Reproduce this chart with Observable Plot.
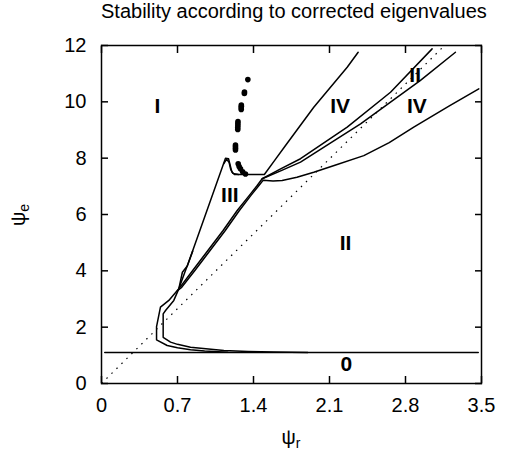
<!DOCTYPE html>
<html>
<head>
<meta charset="utf-8">
<script src="https://cdn.jsdelivr.net/npm/d3@7"></script>
<script src="https://cdn.jsdelivr.net/npm/@observablehq/plot@0.6"></script>
<style>
  body { margin: 0; background: #fff; }
  #title { font-family: "Liberation Sans", Arial, sans-serif; font-size: 20px; line-height: 23px; height: 23px;
           padding-left: 101px; padding-right: 30px; text-align: center; white-space: nowrap; color: #000; }
</style>
</head>
<body>
<div id="title">Stability according to corrected eigenvalues</div>
<div id="chart"></div>
<script>
// ---- data ----
const xTicks = [0, 0.7, 1.4, 2.1, 2.8, 3.5];
const xTickLabels = ["0", "0.7", "1.4", "2.1", "2.8", "3.5"];
const yTicks = [0, 2, 4, 6, 8, 10, 12];
const yTickLabels = ["0", "2", "4", "6", "8", "10", "12"];

// reference diagonal (dotted)
const diagonal = [[0, 0], [3.16, 12]];
// horizontal boundary of region 0
const zeroLine = [[0.03, 1.10], [3.47, 1.10]];

// outer boundary: lower tail, nose, left edge of III, peak, plateau, steep line
const curveOuter = [[1.163, 1.11], [0.95, 1.15], [0.82, 1.20], [0.70, 1.27], [0.605, 1.35], [0.507, 1.55],
  [0.507, 2.02], [0.543, 2.71], [0.62, 2.95], [0.712, 3.36], [0.745, 3.95], [0.79, 4.17], [1.142, 8.0],
  [1.17, 7.98], [1.20, 7.52], [1.225, 7.42], [1.50, 7.42], [1.60, 7.95], [1.695, 8.45], [1.955, 9.81],
  [2.263, 11.23], [2.364, 11.76]];

// inner boundary: merges into zero line, inner nose, right edge of III, upper wedge line
const curveInner = [[1.90, 1.10], [1.587, 1.115], [1.35, 1.14], [1.127, 1.17], [0.82, 1.29], [0.70, 1.39],
  [0.636, 1.47], [0.568, 1.64], [0.568, 2.47], [0.59, 2.59], [0.666, 2.95], [0.712, 3.36], [0.84, 4.01],
  [0.98, 4.72], [1.12, 5.43], [1.25, 6.14], [1.36, 6.67], [1.434, 7.03], [1.48, 7.27], [1.65, 7.62],
  [1.833, 7.98], [2.263, 9.10], [2.662, 10.34], [3.045, 11.88]];

// second strand of right edge of III, then lower right curve
const curveRight = [[0.70, 3.30], [0.735, 3.40], [0.86, 4.01], [1.00, 4.72], [1.14, 5.43], [1.27, 6.14],
  [1.375, 6.67], [1.45, 7.03], [1.49, 7.22], [1.58, 7.19], [1.664, 7.21], [1.80, 7.32], [1.955, 7.50],
  [2.15, 7.75], [2.416, 8.09], [2.65, 8.55], [2.876, 9.10], [3.2, 9.85], [3.475, 10.46]];

// lower wedge line (below the upper "II")
const curveWedge = [[1.48, 7.27], [1.65, 7.55], [1.833, 7.86], [2.1, 8.52], [2.386, 9.22], [2.938, 10.76], [3.26, 11.76]];

// small extra strands near the peak and near the kink
const curvePeak = [[1.125, 7.8], [1.152, 7.96], [1.175, 7.85], [1.19, 7.6], [1.21, 7.46], [1.26, 7.42]];
const curveKink = [[0.712, 3.36], [0.77, 3.98], [0.80, 4.28], [0.84, 4.7]];

// filled markers (eigenvalue points)
const markerPoints = [[1.348, 10.79], [1.317, 10.35], [1.316, 10.30],
  [1.288, 9.89], [1.288, 9.84], [1.287, 9.79], [1.287, 9.73],
  [1.257, 9.30], [1.256, 9.23], [1.256, 9.16], [1.255, 9.09], [1.255, 9.02],
  [1.234, 8.47], [1.234, 8.41], [1.234, 8.35], [1.234, 8.29],
  [1.259, 7.80], [1.268, 7.70], [1.28, 7.62], [1.30, 7.52], [1.326, 7.44]];

// region labels
const regionNames = ["I", "IV", "II", "IV", "III", "II", "0"];
const regionX = [0.516, 2.198, 2.889, 2.905, 1.182, 2.247, 2.255];
const regionY = [9.85, 9.84, 10.95, 9.84, 6.70, 4.97, 0.68];
const regions = regionNames.map((t, i) => ({t, x: regionX[i], y: regionY[i]}));

const lineOpts = {stroke: "#000", strokeWidth: 1.5};

const chart = Plot.plot({
  width: 511,
  height: 437,
  marginTop: 22,
  marginBottom: 77,
  marginLeft: 101,
  marginRight: 30,
  style: {fontFamily: '"Liberation Sans", Arial, sans-serif', fontSize: "20px", background: "#fff", color: "#000"},
  x: {domain: [0, 3.5]},
  y: {domain: [0, 12]},
  marks: [
    Plot.line(diagonal, {stroke: "#000", strokeWidth: 1.2, strokeDasharray: "1.5,5.5", strokeLinecap: "butt"}),
    Plot.line(zeroLine, lineOpts),
    Plot.line(curveOuter, lineOpts),
    Plot.line(curveInner, lineOpts),
    Plot.line(curveRight, lineOpts),
    Plot.line(curveWedge, lineOpts),
    Plot.line(curvePeak, lineOpts),
    Plot.line(curveKink, lineOpts),
    Plot.dot(markerPoints, {r: 2.8, fill: "#000", stroke: null}),
    Plot.text(regions, {x: "x", y: "y", text: "t", fontWeight: "bold", fontSize: 21, fill: "#000"}),
    Plot.frame({stroke: "#000", strokeWidth: 1.5}),
    Plot.axisX(xTicks, {anchor: "bottom", tickSize: -7, tickPadding: 21, strokeWidth: 1.5,
      tickFormat: d => xTickLabels[xTicks.indexOf(d)], label: null}),
    Plot.axisX(xTicks, {anchor: "top", tickSize: -7, strokeWidth: 1.5, tickFormat: () => "", label: null}),
    Plot.axisY(yTicks, {anchor: "left", tickSize: -7, tickPadding: 22, strokeWidth: 1.5,
      tickFormat: d => yTickLabels[yTicks.indexOf(d)], label: null}),
    Plot.axisY(yTicks, {anchor: "right", tickSize: -7, strokeWidth: 1.5, tickFormat: () => "", label: null})
  ]
});

document.getElementById("chart").appendChild(chart);

// axis titles with subscripts
const svg = d3.select(chart);
const xl = svg.append("text")
  .attr("x", 291).attr("y", 421)
  .attr("text-anchor", "middle")
  .attr("font-size", 20).attr("fill", "#000");
xl.append("tspan").text("ψ");
xl.append("tspan").attr("dy", 4).attr("font-size", 14).text("r");

const yl = svg.append("text")
  .attr("transform", "translate(25,192) rotate(-90)")
  .attr("text-anchor", "middle")
  .attr("font-size", 20).attr("fill", "#000");
yl.append("tspan").text("ψ");
yl.append("tspan").attr("dy", 4).attr("font-size", 14).text("e");
</script>
</body>
</html>
